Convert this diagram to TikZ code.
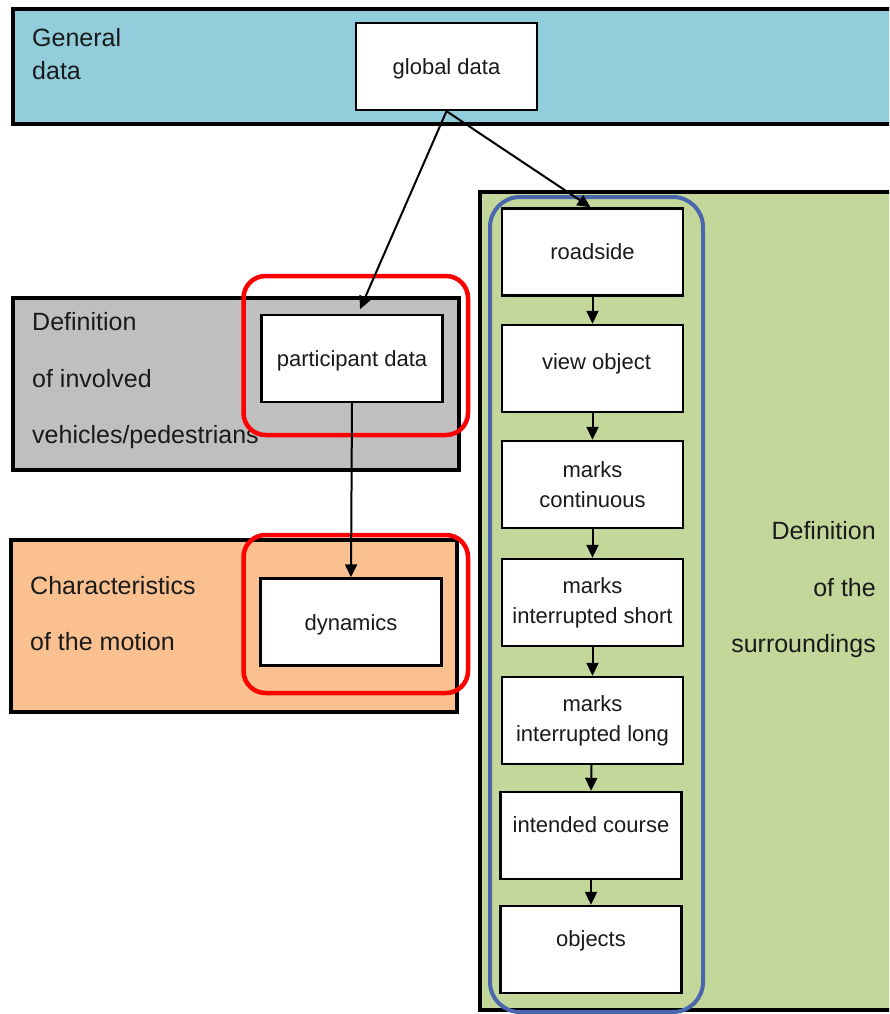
\documentclass[tikz,border=0pt]{standalone}
\usepackage{fontspec}
\setmainfont{Liberation Sans}
\usetikzlibrary{arrows.meta}
\definecolor{bandblue}{HTML}{92CDDC}
\definecolor{regiongray}{HTML}{BFBFBF}
\definecolor{regionorange}{HTML}{FAC090}
\definecolor{regiongreen}{HTML}{C4D79B}
\definecolor{groupblue}{HTML}{4A66AC}
\definecolor{txt}{HTML}{1A1A1A}
\begin{document}
\begin{tikzpicture}[x=1pt,y=-1pt,
  region/.style={draw=black, line width=4.5pt},
  databox/.style={draw=black, fill=white, line width=2.4pt, minimum width=181pt, minimum height=87pt,
    inner sep=0pt, font=\fontsize{22}{30}\selectfont, align=center, text=txt},
  textpos/.style 2 args={text height=#1, text depth=#2},
  label/.style={font=\fontsize{25}{56.5}\selectfont, inner sep=0pt, text=txt},
  hl/.style={draw=red, line width=4.5pt, rounded corners=22pt},
  group/.style={draw=groupblue, line width=4pt, rounded corners=30pt},
  arr/.style={-{Triangle[length=13pt,width=12pt]}, line width=2pt}
]
\useasboundingbox (0,0) rectangle (889,1014);
\clip (0,0) rectangle (889,1014);
\fill[white] (0,0) rectangle (889,1014);

% regions
\draw[region, fill=bandblue] (13,9) rectangle (900,124);
\draw[region, fill=regiongray] (13,298) rectangle (459,470);
\draw[region, fill=regionorange] (11,540) rectangle (457,712);
\draw[region, fill=regiongreen] (480,192) rectangle (900,1010);

% region labels
\node[label, font=\fontsize{25}{33}\selectfont, align=left, anchor=west] (lgen) at (32,54.5) {General\\data};
\node[label, align=left, anchor=west] (lveh) at (32,381) {Definition\\of involved\\vehicles/pedestrians};
\node[label, align=left, anchor=west] (lmot) at (30,613.5) {Characteristics\\of the motion};
\node[label, align=right, anchor=east] (lsur) at (876,590) {Definition\\of the\\surroundings};

% blue group outline
\draw[group] (490,197) rectangle (703,1012);

% boxes
\node[databox, textpos={21pt}{4pt}] (glob) at (446.5,66.5) {global data};
\node[databox, textpos={20pt}{4pt}] (part) at (352,358.5) {participant data};
\node[databox, textpos={21pt}{4pt}] (dyn) at (351,622) {dynamics};
\node[databox, textpos={19pt}{4pt}] (road) at (592.5,252) {roadside};
\node[databox, textpos={16pt}{14pt}] (view) at (592.5,368.5) {\hspace*{8pt}view object};
\node[databox] (mcont) at (592.5,484.5) {marks\\continuous};
\node[databox] (mshort) at (592.5,602.5) {marks\\interrupted short};
\node[databox] (mlong) at (592.5,720.5) {marks\\interrupted long};
\node[databox, textpos={16pt}{23pt}] (course) at (591,835.5) {intended course};
\node[databox, textpos={16pt}{23pt}] (obj) at (591,949.5) {objects};

% highlight outlines
\draw[hl] (243.5,276) rectangle (468,435);
\draw[hl] (243.5,535) rectangle (468,693);

% connectors
\draw[arr, shorten >=5pt] (glob.south) -- ([xshift=6pt]part.north);
\draw[arr] (glob.south) -- ([xshift=-2pt]road.north);
\draw[arr] (part.south) -- (dyn.north);
\draw[arr] (road.south) -- (view.north);
\draw[arr] (view.south) -- (mcont.north);
\draw[arr] (mcont.south) -- (mshort.north);
\draw[arr] (mshort.south) -- (mlong.north);
\draw[arr] ([xshift=-1pt]mlong.south) -- (course.north);
\draw[arr] (course.south) -- (obj.north);
\end{tikzpicture}
\end{document}
